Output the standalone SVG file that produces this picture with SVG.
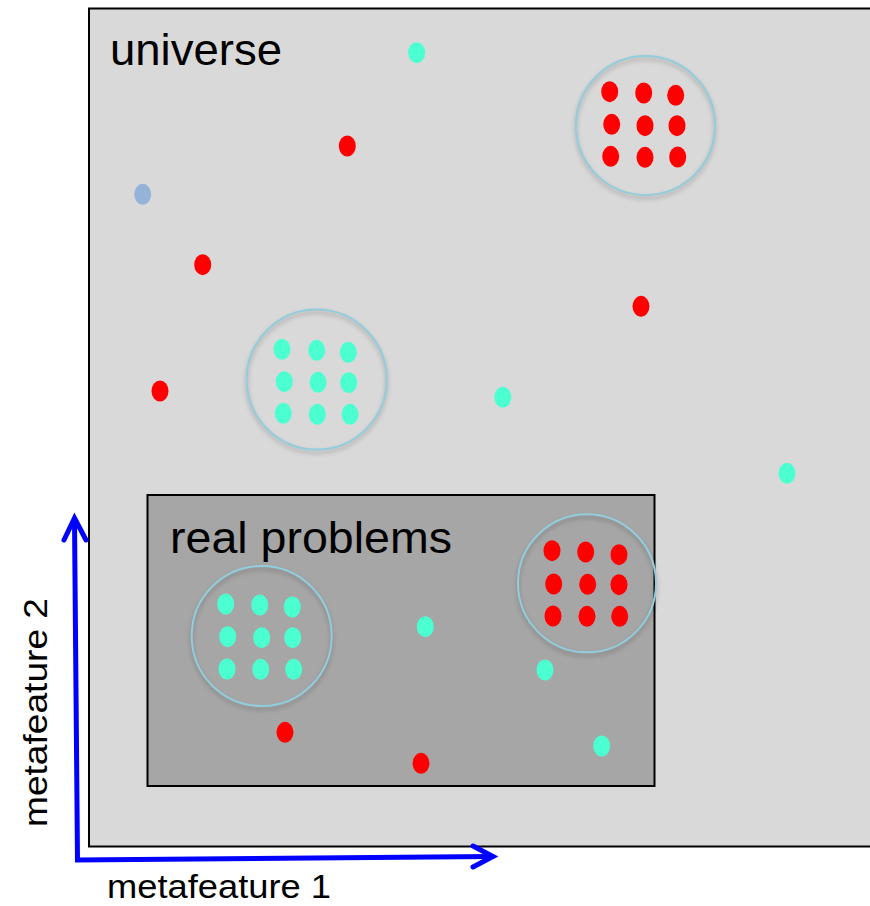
<svg xmlns="http://www.w3.org/2000/svg" width="870" height="906" viewBox="0 0 870 906">
<style>
  .txt { font-family: "Liberation Sans", Arial, sans-serif; fill: #000; }
  .red { fill: #ff0000; }
  .teal { fill: #4bffd0; }
  .bg { fill: #95b3d7; }
  .ring { fill: none; stroke: #92cddc; stroke-width: 2; }
  .shadow { fill: none; stroke: #000; stroke-opacity: 0.18; stroke-width: 3; filter: url(#blur); }
  .axis { fill: none; stroke: #0000ff; stroke-width: 5; stroke-linejoin: miter; }
  .head { fill: none; stroke: #0000ff; stroke-width: 5; stroke-linecap: round; stroke-linejoin: miter; }
</style>
<defs>
  <filter id="blur" x="-20%" y="-20%" width="140%" height="140%">
    <feGaussianBlur stdDeviation="2"/>
  </filter>
</defs>
<rect width="870" height="906" fill="#ffffff"/>

<g id="universe">
  <rect x="89" y="8.5" width="800" height="838" fill="#d9d9d9" stroke="#000" stroke-width="2"/>
  <text class="txt" x="110" y="65" font-size="44" textLength="172" lengthAdjust="spacingAndGlyphs">universe</text>
</g>

<g id="real-problems">
  <rect x="147.5" y="495" width="507" height="291" fill="#a6a6a6" stroke="#000" stroke-width="2"/>
  <text class="txt" x="170" y="553" font-size="44" textLength="282" lengthAdjust="spacingAndGlyphs">real problems</text>
</g>

<g id="cluster-red-top">
  <circle class="shadow" cx="645.5" cy="128.5" r="69.5"/>
  <circle class="ring" cx="645.5" cy="125.5" r="69.5"/>
  <ellipse class="red" cx="609.7" cy="91.7" rx="8.5" ry="10.5"/>
  <ellipse class="red" cx="643.7" cy="93" rx="8.5" ry="10.5"/>
  <ellipse class="red" cx="675.7" cy="95.3" rx="8.5" ry="10.5"/>
  <ellipse class="red" cx="611.7" cy="124.3" rx="8.5" ry="10.5"/>
  <ellipse class="red" cx="645" cy="125.7" rx="8.5" ry="10.5"/>
  <ellipse class="red" cx="677" cy="125.7" rx="8.5" ry="10.5"/>
  <ellipse class="red" cx="610.7" cy="156.3" rx="8.5" ry="10.5"/>
  <ellipse class="red" cx="645" cy="157.3" rx="8.5" ry="10.5"/>
  <ellipse class="red" cx="677.7" cy="157" rx="8.5" ry="10.5"/>
</g>

<g id="cluster-teal-mid">
  <circle class="shadow" cx="316.7" cy="382.5" r="70"/>
  <circle class="ring" cx="316.7" cy="379.5" r="70"/>
  <ellipse class="teal" cx="282" cy="349.3" rx="8.5" ry="10.5"/>
  <ellipse class="teal" cx="316.7" cy="350.3" rx="8.5" ry="10.5"/>
  <ellipse class="teal" cx="348.3" cy="352.3" rx="8.5" ry="10.5"/>
  <ellipse class="teal" cx="284.3" cy="381.7" rx="8.5" ry="10.5"/>
  <ellipse class="teal" cx="318" cy="382.3" rx="8.5" ry="10.5"/>
  <ellipse class="teal" cx="348.7" cy="382.7" rx="8.5" ry="10.5"/>
  <ellipse class="teal" cx="283.3" cy="413.3" rx="8.5" ry="10.5"/>
  <ellipse class="teal" cx="317.3" cy="414.3" rx="8.5" ry="10.5"/>
  <ellipse class="teal" cx="350" cy="414.3" rx="8.5" ry="10.5"/>
</g>

<g id="cluster-teal-real">
  <circle class="shadow" cx="261.7" cy="639" r="70"/>
  <circle class="ring" cx="261.7" cy="636" r="70"/>
  <ellipse class="teal" cx="225.7" cy="604" rx="8.5" ry="10.5"/>
  <ellipse class="teal" cx="259.7" cy="605" rx="8.5" ry="10.5"/>
  <ellipse class="teal" cx="292.3" cy="607" rx="8.5" ry="10.5"/>
  <ellipse class="teal" cx="227.7" cy="636.7" rx="8.5" ry="10.5"/>
  <ellipse class="teal" cx="261.7" cy="637.7" rx="8.5" ry="10.5"/>
  <ellipse class="teal" cx="292.7" cy="637.7" rx="8.5" ry="10.5"/>
  <ellipse class="teal" cx="227" cy="669" rx="8.5" ry="10.5"/>
  <ellipse class="teal" cx="260.7" cy="669.3" rx="8.5" ry="10.5"/>
  <ellipse class="teal" cx="293.7" cy="669.3" rx="8.5" ry="10.5"/>
</g>

<g id="cluster-red-real">
  <circle class="shadow" cx="587" cy="586.3" r="69"/>
  <circle class="ring" cx="587" cy="583.3" r="69"/>
  <ellipse class="red" cx="552" cy="550.7" rx="8.5" ry="10.5"/>
  <ellipse class="red" cx="585.7" cy="552" rx="8.5" ry="10.5"/>
  <ellipse class="red" cx="619" cy="554.7" rx="8.5" ry="10.5"/>
  <ellipse class="red" cx="553.7" cy="584" rx="8.5" ry="10.5"/>
  <ellipse class="red" cx="587.7" cy="584.3" rx="8.5" ry="10.5"/>
  <ellipse class="red" cx="619" cy="584.7" rx="8.5" ry="10.5"/>
  <ellipse class="red" cx="553" cy="616" rx="8.5" ry="10.5"/>
  <ellipse class="red" cx="587" cy="616.3" rx="8.5" ry="10.5"/>
  <ellipse class="red" cx="619.7" cy="616.3" rx="8.5" ry="10.5"/>
</g>

<g id="single-points">
  <ellipse class="teal" cx="416.7" cy="52.7" rx="8.5" ry="10.5"/>
  <ellipse class="red" cx="347.3" cy="146" rx="8.5" ry="10.5"/>
  <ellipse class="bg" cx="142.7" cy="194.3" rx="8.5" ry="10.5"/>
  <ellipse class="red" cx="202.7" cy="264.7" rx="8.5" ry="10.5"/>
  <ellipse class="red" cx="641" cy="306.3" rx="8.5" ry="10.5"/>
  <ellipse class="red" cx="160" cy="391" rx="8.5" ry="10.5"/>
  <ellipse class="teal" cx="502.8" cy="397.3" rx="8.5" ry="10.5"/>
  <ellipse class="teal" cx="787" cy="473.3" rx="8.5" ry="10.5"/>
  <ellipse class="teal" cx="425.3" cy="626.7" rx="8.5" ry="10.5"/>
  <ellipse class="teal" cx="545" cy="670" rx="8.5" ry="10.5"/>
  <ellipse class="teal" cx="601.7" cy="746" rx="8.5" ry="10.5"/>
  <ellipse class="red" cx="285" cy="732.3" rx="8.5" ry="10.5"/>
  <ellipse class="red" cx="421" cy="763.3" rx="8.5" ry="10.5"/>
</g>

<g id="connectors">
  <path class="axis" d="M 74.5,520 L 77.5,860 L 491,856.5"/>
  <path class="head" d="M 64,540 L 74.5,518 L 86,540"/>
  <path class="head" d="M 473,846 L 493,856.5 L 473,867"/>
</g>

<g id="labels">
  <text class="txt" x="107" y="898" font-size="33" textLength="224" lengthAdjust="spacingAndGlyphs">metafeature 1</text>
  <text class="txt" transform="translate(47,827) rotate(-90)" x="0" y="0" font-size="34" textLength="229" lengthAdjust="spacingAndGlyphs">metafeature 2</text>
</g>
</svg>
